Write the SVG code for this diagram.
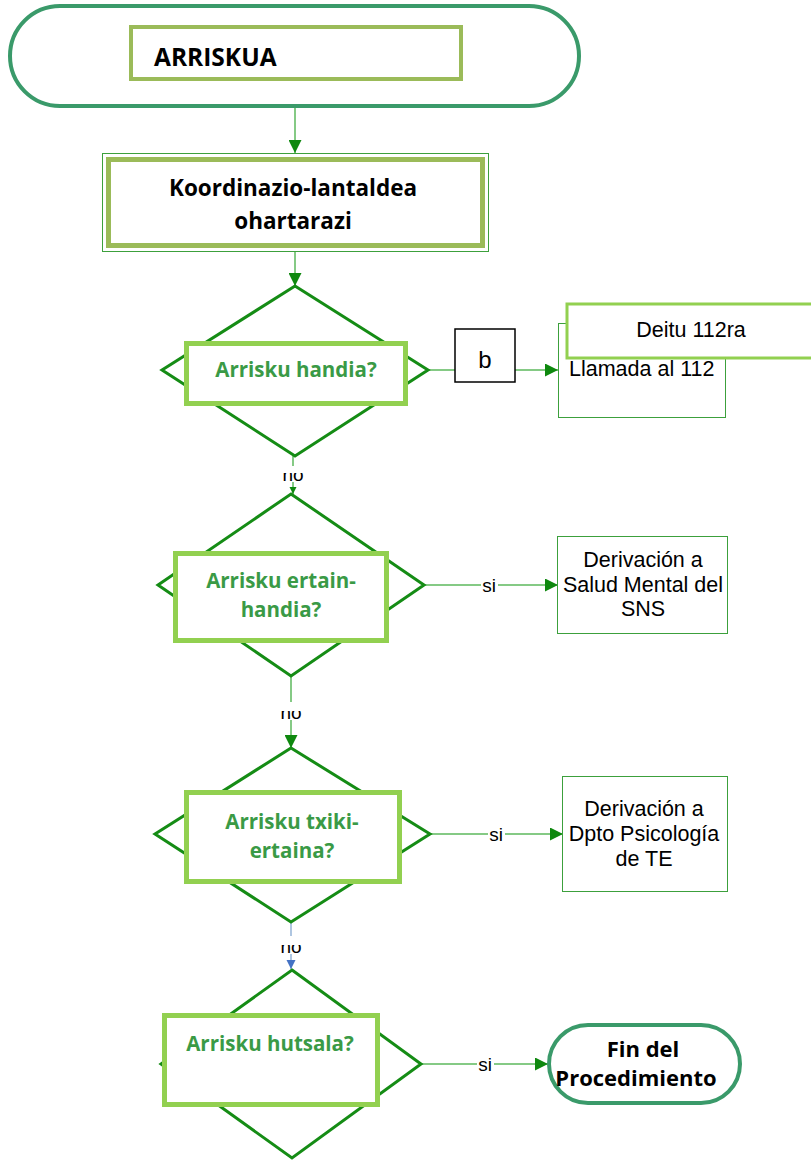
<svg xmlns="http://www.w3.org/2000/svg" width="811" height="1160" viewBox="0 0 811 1160">
  <style>
    .term { fill: #ffffff; stroke: #3a9a6a; stroke-width: 4; }
    .frame { fill: #ffffff; stroke: #9bbb59; stroke-width: 5; }
    .thin { fill: #ffffff; stroke: #3ca03c; stroke-width: 1; }
    .dia { fill: #ffffff; stroke: #158c15; stroke-width: 3; stroke-linejoin: miter; }
    .qbox { fill: #ffffff; stroke: #92d050; stroke-width: 5; }
    .note { fill: #ffffff; stroke: #92d050; stroke-width: 3; }
    .bbox { fill: #ffffff; stroke: #000000; stroke-width: 1.5; }
    .link { fill: none; stroke: #5cb85c; stroke-width: 1.5; }
    .linkblue { fill: none; stroke: #95b3d7; stroke-width: 1.5; }
    .hd { font-family: "Open Sans", Lato, sans-serif; font-weight: bold; fill: #000000; }
    .q { font-family: "Open Sans", Lato, sans-serif; font-weight: bold; fill: #3a9a46; font-size: 20.5px; text-anchor: middle; }
    .tx { font-family: "Liberation Sans", Arial, sans-serif; fill: #000000; }
    .lbl { font-family: "Liberation Sans", Arial, sans-serif; fill: #000000; font-size: 19px; text-anchor: middle; }
  </style>
  <defs>
    <marker id="arrow" viewBox="0 0 10 10" refX="10" refY="5" markerUnits="userSpaceOnUse" markerWidth="14" markerHeight="13" orient="auto">
      <path d="M0,0 L10,5 L0,10 Z" fill="#0e880e"/>
    </marker>
    <marker id="arrowSmall" viewBox="0 0 10 10" refX="10" refY="5" markerUnits="userSpaceOnUse" markerWidth="7" markerHeight="8" orient="auto">
      <path d="M0,0 L10,5 L0,10 Z" fill="#0e880e"/>
    </marker>
    <marker id="arrowBlue" viewBox="0 0 10 10" refX="10" refY="5" markerUnits="userSpaceOnUse" markerWidth="9" markerHeight="11" orient="auto">
      <path d="M0,0 L10,5 L0,10 Z" fill="#4472c4"/>
    </marker>
    <clipPath id="clipNo1"><rect x="270" y="473" width="50" height="12"/></clipPath>
    <clipPath id="clipNo2"><rect x="270" y="711" width="50" height="12"/></clipPath>
    <clipPath id="clipNo3"><rect x="270" y="945" width="50" height="12"/></clipPath>
  </defs>

  <!-- connectors -->
  <g id="connectors">
    <line class="link" x1="295" y1="108" x2="295" y2="153" marker-end="url(#arrow)"/>
    <line class="link" x1="295" y1="252" x2="295" y2="286" marker-end="url(#arrow)"/>
    <line class="link" x1="428" y1="370" x2="455" y2="370"/>
    <line class="link" x1="515" y1="370" x2="558" y2="370" marker-end="url(#arrow)"/>
    <line class="link" x1="293" y1="456" x2="293" y2="494" marker-end="url(#arrowSmall)"/>
    <line class="link" x1="424" y1="585" x2="558" y2="585" marker-end="url(#arrow)"/>
    <line class="link" x1="291" y1="676" x2="291" y2="748" marker-end="url(#arrow)"/>
    <line class="link" x1="430" y1="834" x2="563" y2="834" marker-end="url(#arrow)"/>
    <line class="linkblue" x1="291" y1="922" x2="291" y2="969" marker-end="url(#arrowBlue)"/>
    <line class="link" x1="421" y1="1064" x2="548" y2="1064" marker-end="url(#arrow)"/>
    <!-- branch labels -->
    <rect x="281" y="466" width="26" height="16" fill="#ffffff"/>
    <text class="lbl" x="293" y="481" clip-path="url(#clipNo1)">no</text>
    <rect x="279" y="702" width="26" height="18" fill="#ffffff"/>
    <text class="lbl" x="291" y="719" clip-path="url(#clipNo2)">no</text>
    <rect x="279" y="936" width="26" height="18" fill="#ffffff"/>
    <text class="lbl" x="291" y="953" clip-path="url(#clipNo3)">no</text>
    <rect x="481" y="576" width="17" height="20" fill="#ffffff"/>
    <text class="lbl" x="489" y="592">si</text>
    <rect x="488" y="825" width="17" height="20" fill="#ffffff"/>
    <text class="lbl" x="496" y="841">si</text>
    <rect x="477" y="1055" width="17" height="20" fill="#ffffff"/>
    <text class="lbl" x="485" y="1071">si</text>
  </g>

  <!-- start terminator -->
  <g id="start">
    <rect class="term" x="10" y="6" width="569" height="100" rx="50" ry="50"/>
    <rect x="131" y="27" width="330" height="52" fill="#ffffff" stroke="#9bbb59" stroke-width="4"/>
    <text class="hd" x="154" y="66" font-size="24.5">ARRISKUA</text>
  </g>

  <!-- notify coordination team -->
  <g id="notify">
    <rect class="thin" x="102.5" y="153.5" width="386" height="98"/>
    <rect class="frame" x="108.5" y="159.5" width="374" height="86"/>
    <text class="hd" x="293" y="196" font-size="22.5" text-anchor="middle">Koordinazio-lantaldea</text>
    <text class="hd" x="293" y="229" font-size="22.5" text-anchor="middle">ohartarazi</text>
  </g>

  <!-- decision: high risk -->
  <g id="d-high">
    <polygon class="dia" points="295,286 428,370 295,456 162,370"/>
    <rect class="qbox" x="186.5" y="343.5" width="219" height="60"/>
    <text class="q" x="296" y="377" font-size="21">Arrisku handia?</text>
  </g>

  <!-- b box -->
  <g id="b">
    <rect class="bbox" x="455" y="329" width="60" height="53"/>
    <text class="tx" x="485" y="368" font-size="24" text-anchor="middle">b</text>
  </g>

  <!-- call 112 -->
  <g id="call112">
    <rect class="thin" x="558.5" y="323.5" width="167" height="94"/>
    <text class="tx" x="569" y="376" font-size="21.5">Llamada al 112</text>
  </g>
  <g id="deitu">
    <rect class="note" x="567" y="304" width="260" height="54"/>
    <text class="tx" x="691" y="337" font-size="21.5" text-anchor="middle">Deitu 112ra</text>
  </g>

  <!-- decision: medium-high risk -->
  <g id="d-medhigh">
    <polygon class="dia" points="291,494 424,585 291,676 158,585"/>
    <rect class="qbox" x="175.5" y="553.5" width="211" height="87"/>
    <text class="q" x="281" y="588">Arrisku ertain-</text>
    <text class="q" x="281" y="617">handia?</text>
  </g>
  <g id="salud-mental">
    <rect class="thin" x="557.5" y="536.5" width="170" height="97"/>
    <text class="tx" x="643" y="567" font-size="21.5" text-anchor="middle">Derivación a</text>
    <text class="tx" x="643" y="592" font-size="21.5" text-anchor="middle">Salud Mental del</text>
    <text class="tx" x="643" y="616" font-size="21.5" text-anchor="middle">SNS</text>
  </g>

  <!-- decision: low-medium risk -->
  <g id="d-lowmed">
    <polygon class="dia" points="291,748 430,834 291,922 155,834"/>
    <rect class="qbox" x="186.5" y="792.5" width="213" height="89"/>
    <text class="q" x="292" y="829" font-size="20">Arrisku txiki-</text>
    <text class="q" x="292" y="858" font-size="20">ertaina?</text>
  </g>
  <g id="psicologia">
    <rect class="thin" x="562.5" y="776.5" width="165" height="115"/>
    <text class="tx" x="644" y="816" font-size="21.5" text-anchor="middle">Derivación a</text>
    <text class="tx" x="644" y="841" font-size="21.5" text-anchor="middle">Dpto Psicología</text>
    <text class="tx" x="644" y="866" font-size="21.5" text-anchor="middle">de TE</text>
  </g>

  <!-- decision: no risk -->
  <g id="d-none">
    <polygon class="dia" points="292,970 421,1064 292,1158 161,1064"/>
    <rect class="qbox" x="164.5" y="1015.5" width="213" height="89"/>
    <text class="q" x="270" y="1051" font-size="20">Arrisku hutsala?</text>
  </g>

  <!-- end terminator -->
  <g id="end">
    <rect class="term" x="549" y="1025" width="191" height="78" rx="39" ry="39"/>
    <text class="hd" x="643" y="1057" font-size="22" text-anchor="middle">Fin del</text>
    <text class="hd" x="636" y="1086" font-size="22" text-anchor="middle">Procedimiento</text>
  </g>
</svg>
